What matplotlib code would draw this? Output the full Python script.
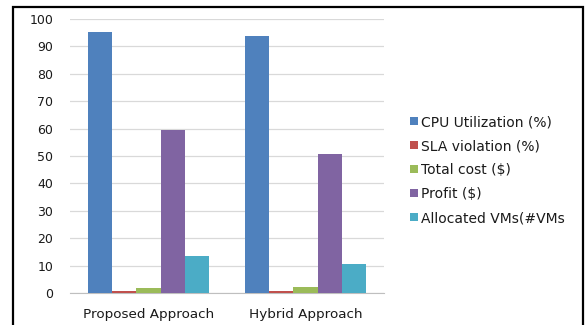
import numpy as np
import matplotlib.pyplot as plt
from matplotlib.patches import Rectangle

# data
categories = ['Proposed Approach', 'Hybrid Approach']
series_names = ['CPU Utilization (%)', 'SLA violation (%)', 'Total cost ($)',
                'Profit ($)', 'Allocated VMs(#VMs']
cpu = [95.1, 93.8]
sla = [0.6, 0.6]
cost = [1.7, 2.3]
profit = [59.5, 50.6]
vms = [13.6, 10.7]
colors = ['#4F81BD', '#C0504D', '#9BBB59', '#8064A2', '#4BACC6']

plt.rcParams['font.family'] = ['DejaVu Sans']
plt.rcParams['text.color'] = '#1a1a1a'

fig = plt.figure(figsize=(5.88, 3.25), dpi=100)
ax = fig.add_axes([70/588, 1-293/325, 314/588, 274/325])

x = np.arange(len(categories))
w = 0.155
all_series = [cpu, sla, cost, profit, vms]
for i, vals in enumerate(all_series):
    ax.bar(x + (i - 2) * w, vals, w, color=colors[i], label=series_names[i], zorder=3)

ax.set_xlim(-0.5, 1.5)
ax.set_ylim(0, 100)
ax.set_yticks(range(0, 101, 10))
ax.set_xticks(x)
ax.set_xticklabels(categories, fontsize=9.7)
ax.tick_params(axis='y', labelsize=9, length=0, pad=12, labelcolor='#1a1a1a')
ax.tick_params(axis='x', length=0, pad=11, labelcolor='#1a1a1a')
ax.grid(axis='y', color='#d9d9d9', linewidth=0.9, zorder=0)
for s in ['left', 'right', 'top']:
    ax.spines[s].set_visible(False)
ax.spines['bottom'].set_color('#bfbfbf')

ax.legend(loc='center left', bbox_to_anchor=(410/588, 1 - 170/325), bbox_transform=fig.transFigure,
          frameon=False, fontsize=10, handlelength=0.55, handleheight=0.55,
          handletextpad=0.25, labelspacing=0.72, borderaxespad=0, borderpad=0)

# outer frame of the picture
fig.patches.append(Rectangle((13/588, -0.05), 570/588, 1 - 7/325 + 0.05, transform=fig.transFigure,
                             fill=False, edgecolor='black', linewidth=1.6))

fig.savefig('out.png', dpi=100)
